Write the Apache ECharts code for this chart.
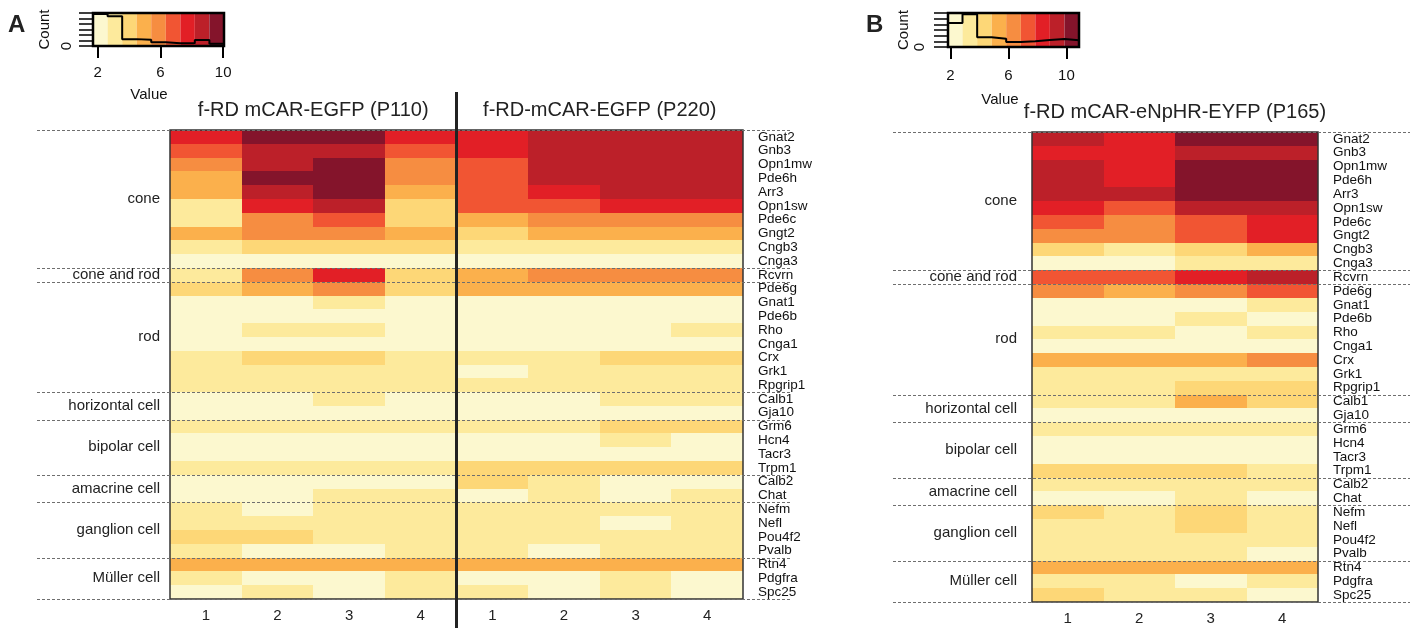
<!DOCTYPE html>
<html><head><meta charset="utf-8">
<script src="https://cdn.jsdelivr.net/npm/echarts@6/dist/echarts.min.js"></script>
<style>html,body{margin:0;padding:0;background:#fff}#c{width:1414px;height:628px}</style>
</head><body><div id="c"></div>
<script>
const genes = ['Gnat2','Gnb3','Opn1mw','Pde6h','Arr3','Opn1sw','Pde6c','Gngt2','Cngb3','Cnga3',
  'Rcvrn','Pde6g','Gnat1','Pde6b','Rho','Cnga1','Crx','Grk1','Rpgrip1','Calb1','Gja10',
  'Grm6','Hcn4','Tacr3','Trpm1','Calb2','Chat','Nefm','Nefl','Pou4f2','Pvalb','Rtn4','Pdgfra','Spc25'];
const groupNames = ['cone','cone and rod','rod','horizontal cell','bipolar cell','amacrine cell','ganglion cell','Müller cell'];
const groupSizes = [10,1,8,2,4,2,4,3];
const colLabels = ['1','2','3','4'];
const titleP110 = 'f-RD mCAR-EGFP (P110)';
const titleP220 = 'f-RD-mCAR-EGFP (P220)';
const titleP165 = 'f-RD mCAR-eNpHR-EYFP (P165)';

const valsP110 = [
[7.7,9.6,9.6,7.7],[6.8,8.7,8.7,6.8],[5.9,8.7,9.6,5.9],[4.9,9.6,9.6,5.9],[4.9,8.7,9.6,4.9],
[3.1,7.7,8.7,4.0],[3.1,5.9,6.8,4.0],[4.9,5.9,5.9,4.9],[3.1,4.0,4.0,4.0],[2.2,2.2,2.2,2.2],
[3.1,5.9,7.7,4.0],[4.0,4.9,5.9,4.0],[2.2,2.2,3.1,2.2],[2.2,2.2,2.2,2.2],[2.2,3.1,3.1,2.2],
[2.2,2.2,2.2,2.2],[3.1,4.0,4.0,3.1],[3.1,3.1,3.1,3.1],[3.1,3.1,3.1,3.1],[2.2,2.2,3.1,2.2],
[2.2,2.2,2.2,2.2],[3.1,3.1,3.1,3.1],[2.2,2.2,2.2,2.2],[2.2,2.2,2.2,2.2],[3.1,3.1,3.1,3.1],
[2.2,2.2,2.2,2.2],[2.2,2.2,3.1,3.1],[3.1,2.2,3.1,3.1],[3.1,3.1,3.1,3.1],[4.0,4.0,3.1,3.1],
[3.1,2.2,2.2,3.1],[4.9,4.9,4.9,4.9],[3.1,2.2,2.2,3.1],[2.2,3.1,2.2,3.1]];
const valsP220 = [
[7.7,8.7,8.7,8.7],[7.7,8.7,8.7,8.7],[6.8,8.7,8.7,8.7],[6.8,8.7,8.7,8.7],[6.8,7.7,8.7,8.7],
[6.8,6.8,7.7,7.7],[4.9,5.9,5.9,5.9],[4.0,4.9,4.9,4.9],[3.1,3.1,3.1,3.1],[2.2,2.2,2.2,2.2],
[4.9,5.9,5.9,5.9],[4.9,4.9,4.9,4.9],[2.2,2.2,2.2,2.2],[2.2,2.2,2.2,2.2],[2.2,2.2,2.2,3.1],
[2.2,2.2,2.2,2.2],[3.1,3.1,4.0,4.0],[2.2,3.1,3.1,3.1],[3.1,3.1,3.1,3.1],[2.2,2.2,3.1,3.1],
[2.2,2.2,2.2,2.2],[3.1,3.1,4.0,4.0],[2.2,2.2,3.1,2.2],[2.2,2.2,2.2,2.2],[4.0,4.0,4.0,4.0],
[4.0,3.1,2.2,2.2],[2.2,3.1,2.2,3.1],[3.1,3.1,3.1,3.1],[3.1,3.1,2.2,3.1],[3.1,3.1,3.1,3.1],
[3.1,2.2,3.1,3.1],[4.9,4.9,4.9,4.9],[2.2,2.2,3.1,2.2],[3.1,2.2,3.1,2.2]];
const valsP165 = [
[9.4,8.4,10.4,10.4],[8.4,8.4,9.4,9.4],[9.4,8.4,10.4,10.4],[9.4,8.4,10.4,10.4],[9.4,9.4,10.4,10.4],
[8.4,7.4,9.4,9.4],[7.4,6.4,7.4,8.4],[6.4,6.4,7.4,8.4],[4.3,3.3,4.3,5.4],[2.3,2.3,3.3,3.3],
[7.4,7.4,8.4,9.4],[6.4,5.4,6.4,7.4],[2.3,2.3,2.3,3.3],[2.3,2.3,3.3,2.3],[3.3,3.3,2.3,3.3],
[2.3,2.3,2.3,2.3],[5.4,5.4,5.4,6.4],[3.3,3.3,3.3,3.3],[3.3,3.3,4.3,4.3],[3.3,3.3,5.4,4.3],
[2.3,2.3,2.3,2.3],[3.3,3.3,3.3,3.3],[2.3,2.3,2.3,2.3],[2.3,2.3,2.3,2.3],[4.3,4.3,4.3,3.3],
[3.3,3.3,3.3,3.3],[2.3,2.3,3.3,2.3],[4.3,3.3,4.3,3.3],[3.3,3.3,4.3,3.3],[3.3,3.3,3.3,3.3],
[3.3,3.3,3.3,2.3],[5.4,5.4,5.4,5.4],[3.3,3.3,2.3,3.3],[4.3,3.3,3.3,2.3]];

const palette = ['#FCF8CF','#FDEA9C','#FDD777','#FBB04C','#F68D41','#F15533','#E21F26','#BC2029','#84142B'];
const edgesA = [1.70,2.63,3.56,4.48,5.41,6.34,7.27,8.19,9.12,10.05];
const edgesB = [1.84,2.84,3.85,4.85,5.85,6.86,7.86,8.86,9.87,10.87];
const countsA = [116,108,25,23,14,10,10,22,8];
const countsB = [85,116,34,29,18,20,25,28,24];
const keyTicks = [2,6,10];
const countMax = 120;

const FONT = '"Liberation Sans", Arial, Helvetica, sans-serif';
const chart = echarts.init(document.getElementById('c'));

const dataA = [], dataB = [];
genes.forEach((g, r) => {
  for (let c = 0; c < 4; c++) {
    dataA.push([c, r, valsP110[r][c]]);
    dataA.push([c + 4, r, valsP220[r][c]]);
    dataB.push([c, r, valsP165[r][c]]);
  }
});
function pieces(edges) {
  return palette.map((col, i) => ({ min: edges[i], max: edges[i + 1], color: col }));
}
function bands(edges) { return palette.map((c, i) => [edges[i], edges[i + 1], i]); }
function hist(edges, counts) { return edges.map((e, i) => [e, counts[Math.min(i, counts.length - 1)]]); }

const bandRender = (params, api) => {
  const p0 = api.coord([api.value(0), countMax]);
  const p1 = api.coord([api.value(1), 0]);
  return { type: 'rect', shape: { x: p0[0], y: p0[1], width: p1[0] - p0[0], height: p1[1] - p0[1] },
           style: { fill: palette[api.value(2)] } };
};
const cellRender = (params, api) => {
  const c = api.coord([api.value(0), api.value(1)]);
  const s = api.size([1, 1]);
  const x0 = Math.round(c[0] - s[0] / 2), x1 = Math.round(c[0] + s[0] / 2);
  const y0 = Math.round(c[1] - s[1] / 2), y1 = Math.round(c[1] + s[1] / 2);
  return { type: 'rect', shape: { x: x0, y: y0, width: x1 - x0, height: y1 - y0 },
           style: { fill: api.visual('color') } };
};

function catX(grid, data) {
  return { gridIndex: grid, type: 'category', data: data, axisLine: { show: false }, axisTick: { show: false },
    splitLine: { show: false }, axisLabel: { fontSize: 15, color: '#222', margin: 9, fontFamily: FONT } };
}
function catY(grid) {
  return { gridIndex: grid, type: 'category', data: genes, inverse: true, position: 'right',
    axisLine: { show: false }, axisTick: { show: false }, splitLine: { show: false },
    axisLabel: { fontSize: 13.5, color: '#111', margin: 15, fontFamily: FONT, interval: 0 } };
}
function keyX(grid, edges, margin) {
  return { gridIndex: grid, type: 'value', min: edges[0], max: edges[edges.length - 1],
    axisLine: { show: false }, splitLine: { show: false },
    axisTick: { show: true, customValues: keyTicks, length: 12, lineStyle: { color: '#000', width: 2 } },
    axisLabel: { customValues: keyTicks, fontSize: 15, color: '#111', margin: margin, fontFamily: FONT } };
}
function keyY(grid, margin, gap) {
  return { gridIndex: grid, type: 'value', min: 0, max: countMax, interval: 20,
    axisLine: { show: false }, splitLine: { show: false },
    axisTick: { show: true, length: 14, lineStyle: { color: '#000', width: 1.5 } },
    axisLabel: { rotate: 90, formatter: v => (v === 0 ? '0' : ''), fontSize: 15, color: '#111', margin: margin, fontFamily: FONT },
    name: 'Count', nameLocation: 'middle', nameRotate: 90, nameGap: gap,
    nameTextStyle: { fontSize: 15, color: '#111', fontFamily: FONT } };
}

chart.setOption({
  animation: false,
  textStyle: { fontFamily: FONT },
  grid: [
    { left: 170, top: 130, width: 573, height: 469, show: true, borderColor: '#333', borderWidth: 1.5, z: 10 },
    { left: 1032, top: 132, width: 286, height: 470, show: true, borderColor: '#333', borderWidth: 1.5, z: 10 },
    { left: 93, top: 13, width: 131, height: 33, show: true, borderColor: '#000', borderWidth: 2.5, z: 10 },
    { left: 948, top: 13, width: 131, height: 34, show: true, borderColor: '#000', borderWidth: 2.5, z: 10 }
  ],
  xAxis: [catX(0, colLabels.concat(colLabels)), catX(1, colLabels), keyX(2, edgesA, 19), keyX(3, edgesB, 21)],
  yAxis: [catY(0), catY(1), keyY(2, 19, 41), keyY(3, 21, 37)],
  visualMap: [
    { type: 'piecewise', show: false, seriesIndex: 0, dimension: 2, pieces: pieces(edgesA) },
    { type: 'piecewise', show: false, seriesIndex: 1, dimension: 2, pieces: pieces(edgesB) }
  ],
  series: [
    { type: 'custom', xAxisIndex: 0, yAxisIndex: 0, data: dataA, renderItem: cellRender, silent: true,
      dimensions: ['x', 'y', 'v'], encode: { x: 0, y: 1 } },
    { type: 'custom', xAxisIndex: 1, yAxisIndex: 1, data: dataB, renderItem: cellRender, silent: true,
      dimensions: ['x', 'y', 'v'], encode: { x: 0, y: 1 } },
    { type: 'custom', xAxisIndex: 2, yAxisIndex: 2, data: bands(edgesA), renderItem: bandRender, silent: true },
    { type: 'custom', xAxisIndex: 3, yAxisIndex: 3, data: bands(edgesB), renderItem: bandRender, silent: true },
    { type: 'line', xAxisIndex: 2, yAxisIndex: 2, data: hist(edgesA, countsA), step: 'end', symbol: 'none',
      lineStyle: { color: '#000', width: 2 }, z: 20, silent: true },
    { type: 'line', xAxisIndex: 3, yAxisIndex: 3, data: hist(edgesB, countsB), step: 'end', symbol: 'none',
      lineStyle: { color: '#000', width: 2 }, z: 20, silent: true }
  ]
});

// derived decorations
function rowEdges(gridIndex) {
  const cy = i => chart.convertToPixel({ gridIndex: gridIndex }, [0, i])[1];
  const h = cy(1) - cy(0);
  const edges = [];
  let r = 0;
  edges.push(cy(0) - h / 2);
  groupSizes.forEach(s => { r += s; edges.push(cy(r - 1) + h / 2); });
  return edges;
}
function colX(gridIndex, i) { return chart.convertToPixel({ gridIndex: gridIndex }, [i, 0])[0]; }

const graphics = [];
function panelDecor(gridIndex, x0, x1, labelRight) {
  const e = rowEdges(gridIndex);
  e.forEach(y => graphics.push({ type: 'line', z: 30, silent: true,
    shape: { x1: x0, y1: Math.round(y) + 0.5, x2: x1, y2: Math.round(y) + 0.5 }, style: { stroke: '#6f6f6f', lineWidth: 1, lineDash: [3, 2] } }));
  groupNames.forEach((n, i) => graphics.push({ type: 'text', z: 30, silent: true,
    style: { text: n, x: labelRight, y: (e[i] + e[i + 1]) / 2, align: 'right', verticalAlign: 'middle',
      font: '15px ' + FONT, fill: '#222' } }));
}
panelDecor(0, 37, 792, 160);
panelDecor(1, 893, 1410, 1017);

const midA1 = (colX(0, 0) + colX(0, 3)) / 2, midA2 = (colX(0, 4) + colX(0, 7)) / 2, midB = (colX(1, 0) + colX(1, 3)) / 2;
const sepX = (colX(0, 3) + colX(0, 4)) / 2;
graphics.push({ type: 'line', z: 40, silent: true, shape: { x1: sepX, y1: 92, x2: sepX, y2: 628 }, style: { stroke: '#222', lineWidth: 3 } });
[[titleP110, midA1, 110], [titleP220, midA2, 110], [titleP165, midB, 112]].forEach(t => graphics.push({
  type: 'text', z: 30, silent: true, style: { text: t[0], x: t[1], y: t[2], align: 'center', verticalAlign: 'middle',
    font: '20px ' + FONT, fill: '#222' } }));
[['Value', 149, 95], ['Value', 1000, 100]].forEach(t => graphics.push({
  type: 'text', z: 30, silent: true, style: { text: t[0], x: t[1], y: t[2], align: 'center', verticalAlign: 'middle',
    font: '15px ' + FONT, fill: '#111' } }));
graphics.push({ type: 'text', z: 30, silent: true, style: { text: 'A', x: 8, y: 25, verticalAlign: 'middle', font: 'bold 24px ' + FONT, fill: '#222' } });
graphics.push({ type: 'text', z: 30, silent: true, style: { text: 'B', x: 866, y: 25, verticalAlign: 'middle', font: 'bold 24px ' + FONT, fill: '#222' } });
chart.setOption({ graphic: { elements: graphics } });
</script></body></html>
